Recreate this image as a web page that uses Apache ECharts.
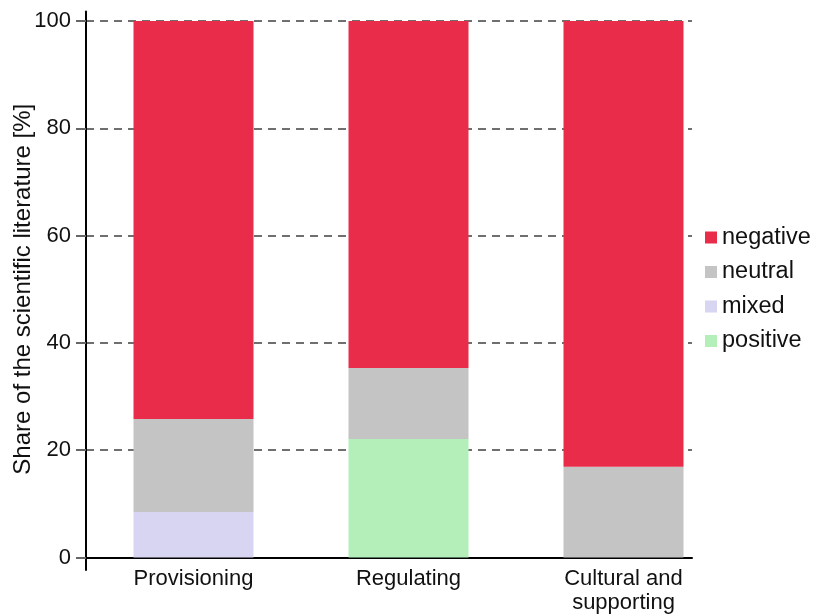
<!DOCTYPE html>
<html>
<head>
<meta charset="utf-8">
<script src="https://cdn.jsdelivr.net/npm/echarts@6/dist/echarts.min.js"></script>
<style>
html,body{margin:0;padding:0;background:#fff;}
#chart{width:816px;height:615px;}
</style>
</head>
<body>
<div id="chart"></div>
<script>
const categories = ['Provisioning', 'Regulating', 'Cultural and\nsupporting'];
const positive = [0, 22.1, 0];
const mixed = [8.5, 0, 0];
const neutral = [17.3, 13.2, 16.9];
const negative = [74.2, 64.7, 83.1];
const yTicks = [0, 20, 40, 60, 80, 100];

const FONT = '"Liberation Sans", Arial, sans-serif';
const colors = {negative:'#E82C4A', neutral:'#C3C4C3', mixed:'#D8D5F2', positive:'#B4EFBA'};

function mk(name, arr){
  return {
    name: name, type: 'bar', stack: 'all', barWidth: 120,
    xAxisIndex: 0, yAxisIndex: 0,
    data: arr,
    itemStyle: {color: colors[name]},
    emphasis: {disabled: true}
  };
}

const chart = echarts.init(document.getElementById('chart'), null, {renderer:'canvas'});
chart.setOption({
  animation: false,
  textStyle: {fontFamily: FONT},
  grid: [
    {left: 86, right: 85, top: 21, bottom: 57.5, containLabel: false, outerBoundsMode: 'none'},
    {left: 86, right: 124, top: 21, bottom: 57.5, containLabel: false, outerBoundsMode: 'none'},
    {left: 86, right: 124, top: 11.5, bottom: 45, containLabel: false, outerBoundsMode: 'none'}
  ],
  legend: {
    orient: 'vertical', left: 700, top: 219,
    itemWidth: 12, itemHeight: 12, itemGap: 7.5,
    icon: 'rect',
    data: ['negative', 'neutral', 'mixed', 'positive'],
    textStyle: {fontSize: 23.5, color: '#111', fontFamily: FONT, lineHeight: 27}
  },
  xAxis: [
    {
      type: 'category', gridIndex: 0, data: categories,
      axisLine: {show: false}, axisTick: {show: false},
      splitLine: {show: false},
      axisLabel: {fontSize: 22, color: '#111', margin: 9, lineHeight: 24, fontFamily: FONT, interval: 0}
    },
    {
      type: 'value', gridIndex: 1, min: 0, max: 1,
      axisLine: {show: true, onZero: false, lineStyle: {color: '#000', width: 2}},
      axisTick: {show: false}, axisLabel: {show: false}, splitLine: {show: false}
    },
    {
      type: 'value', gridIndex: 2, min: 0, max: 1, show: false
    }
  ],
  yAxis: [
    {
      type: 'value', gridIndex: 0, min: 0, max: 100, interval: 20,
      axisLine: {show: false}, axisTick: {show: false},
      axisLabel: {show: false}, splitLine: {show: false}
    },
    {
      type: 'value', gridIndex: 1, min: 0, max: 100, interval: 20,
      name: 'Share of the scientific literature [%]',
      nameLocation: 'middle', nameGap: 51, nameMoveOverlap: false,
      nameTextStyle: {fontSize: 24, color: '#111', fontFamily: FONT},
      axisLine: {show: true, onZero: false, lineStyle: {color: '#000', width: 2}},
      axisTick: {show: true, length: 10, lineStyle: {color: '#666', width: 2}},
      axisLabel: {
        fontSize: 22, color: '#111', margin: 15, fontFamily: FONT,
        formatter: v => yTicks.includes(v) ? String(v) : ''
      },
      splitLine: {show: true, lineStyle: {color: '#6f6f6f', width: 2, type: [8, 6]}}
    },
    {
      type: 'value', gridIndex: 2, min: 0, max: 1,
      axisLine: {show: true, onZero: false, lineStyle: {color: '#000', width: 2}},
      axisTick: {show: false}, axisLabel: {show: false}, splitLine: {show: false}
    }
  ],
  series: [
    mk('positive', positive),
    mk('mixed', mixed),
    mk('neutral', neutral),
    mk('negative', negative)
  ]
});
</script>
</body>
</html>
